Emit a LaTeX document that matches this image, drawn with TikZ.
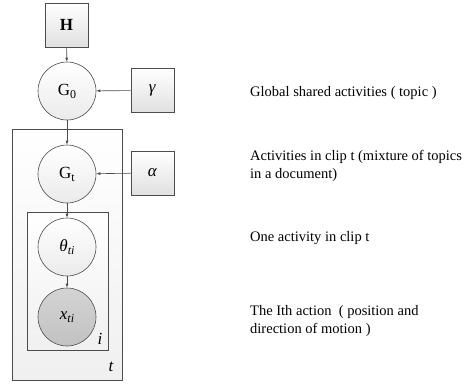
\documentclass[tikz,border=0pt]{standalone}
\usepackage{fontspec}
\setmainfont{Liberation Serif}
\usetikzlibrary{arrows.meta}
\newcommand{\sub}[1]{\raisebox{-0.4ex}{\fontsize{12}{14}\selectfont #1}}
\begin{document}
\begin{tikzpicture}[x=1pt,y=-1pt,
  line/.style={draw=black!70, line width=0.6pt},
  boxnode/.style={line, rectangle, minimum width=43pt, minimum height=44pt,
    top color=white, bottom color=black!12, inner sep=0pt, font=\fontsize{17}{19}\selectfont},
  varnode/.style={line, circle, minimum size=58pt, inner sep=0pt,
    top color=white, bottom color=black!8, font=\fontsize{17}{19}\selectfont},
  obsnode/.style={varnode, top color=black!17, bottom color=black!24},
  plate/.style={line, top color=white, bottom color=black!6},
  edge/.style={line, -{Latex[length=4pt,width=3pt]}},
  note/.style={anchor=west, font=\fontsize{14.5}{17.5}\selectfont, align=left, inner sep=0pt}
]
\useasboundingbox (0,0) rectangle (465,384);

% plates
\path[plate] (12,129) rectangle (122,380);
\path[plate] (27,212) rectangle (108,350);
\node[font=\itshape\fontsize{17}{19}\selectfont] (ilab) at (100,339) {i};
\node[font=\itshape\fontsize{17}{19}\selectfont] (tlab) at (111,367) {t};

% nodes
\node[boxnode] (H) at (66.5,25) {\textbf{H}};
\node[varnode] (G0) at (67,91) {G\sub{0}};
\node[boxnode] (gamma) at (152.5,90.5) {\textit{γ}};
\node[varnode] (Gt) at (67,174) {G\sub{t}};
\node[boxnode] (alpha) at (152.5,173) {\textit{α}};
\node[varnode] (theta) at (67,247) {\textit{θ}\sub{\textit{ti}}};
\node[obsnode] (x) at (67,317) {\textit{x}\sub{\textit{ti}}};

% edges
\draw[edge] (H) -- (G0);
\draw[edge] (gamma) -- (G0);
\draw[edge] (G0) -- (Gt);
\draw[edge] (alpha) -- (Gt);
\draw[edge] (Gt) -- (theta);
\draw[edge] (theta) -- (x);

% descriptions
\node[note] (n1) at (250,93) {Global shared activities ( topic )};
\node[note] (n2) at (250,166) {Activities in clip t (mixture of topics\\in a document)};
\node[note] (n3) at (250,238) {One activity in clip t};
\node[note] (n4) at (250,321) {The Ith action~ ( position and\\direction of motion )};
\end{tikzpicture}
\end{document}
